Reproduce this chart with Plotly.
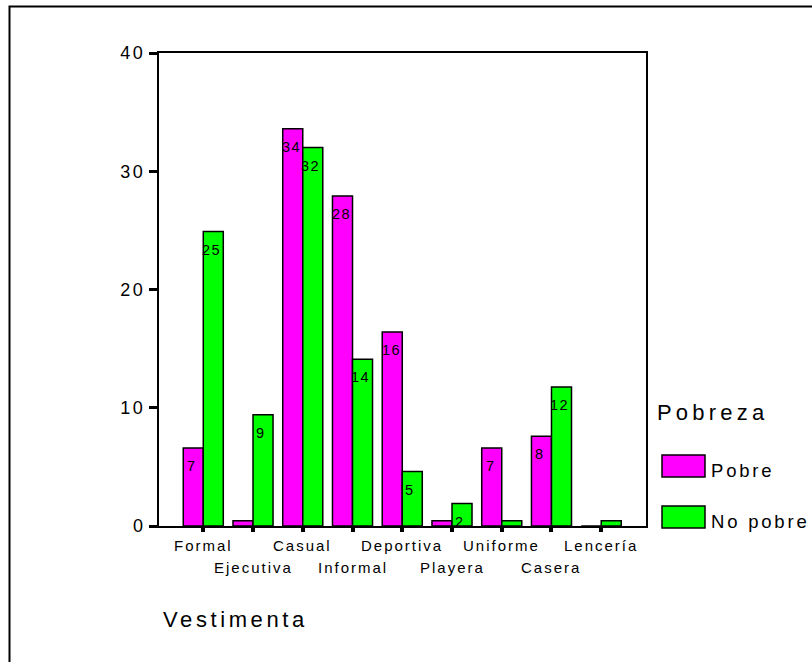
import plotly.graph_objects as go

# Percentages of each clothing type by poverty group
categorias = ["Formal", "Ejecutiva", "Casual", "Informal", "Deportiva",
              "Playera", "Uniforme", "Casera", "Lencería"]
pobre = [6.6, 0.45, 33.6, 27.9, 16.4, 0.45, 6.6, 7.6, 0.0]
no_pobre = [24.9, 9.4, 32.0, 14.1, 4.6, 1.9, 0.45, 11.75, 0.45]
series = ["Pobre", "No pobre"]
colores = ["#FF00FF", "#00FF00"]
y_ticks = [0, 10, 20, 30, 40]
eje_x = "Vestimenta"
titulo_leyenda = "Pobreza"

# Page geometry (pixels)
W, H = 812, 662
L, R, T, B = 159, 646, 53, 526


def fx(p):
    return (p - L) / (R - L)


def fy(p):
    return (B - p) / (B - T)


def sp(text, ls):
    return f'<span style="letter-spacing:{ls}px">{text}</span>'


FONT = "Liberation Sans, Arial, sans-serif"

fig = go.Figure()
for nombre, valores, color in zip(series, [pobre, no_pobre], colores):
    fig.add_trace(go.Bar(
        x=categorias, y=valores, name=nombre,
        marker=dict(color=color, line=dict(color="black", width=1.5)),
        showlegend=False, hoverinfo="skip",
    ))

annotations = []

# value labels near the top of each bar
for k, valores in enumerate([pobre, no_pobre]):
    shift = -11 if k == 0 else 8
    for cat, v in zip(categorias, valores):
        if round(v) >= 1:
            annotations.append(dict(
                x=cat, y=v, xref="x", yref="y", xshift=shift, yshift=-18,
                text=sp(f"{v:.0f}", 1.5), showarrow=False,
                xanchor="center", yanchor="middle",
                font=dict(family=FONT, size=14.5, color="black"),
            ))

# category labels on two staggered rows
for i, cat in enumerate(categorias):
    row_y = 545 if i % 2 == 0 else 567
    annotations.append(dict(
        x=cat, y=fy(row_y), xref="x", yref="paper",
        text=sp(cat, 2), showarrow=False,
        xanchor="center", yanchor="middle",
        font=dict(family=FONT, size=15, color="black"),
    ))

# axis title
annotations.append(dict(
    x=fx(161), y=fy(619), xref="paper", yref="paper",
    text=sp(eje_x, 3.6), showarrow=False, xanchor="left", yanchor="middle",
    font=dict(family=FONT, size=22, color="black"),
))

# legend
annotations.append(dict(
    x=fx(655), y=fy(412.5), xref="paper", yref="paper",
    text=sp(titulo_leyenda, 4.2), showarrow=False, xanchor="left", yanchor="middle",
    font=dict(family=FONT, size=22, color="black"),
))
shapes = []
for i, (nombre, color) in enumerate(zip(series, colores)):
    top = 455 + i * 51
    shapes.append(dict(
        type="rect", xref="paper", yref="paper",
        x0=fx(662), x1=fx(705), y0=fy(top + 22), y1=fy(top),
        fillcolor=color, line=dict(color="black", width=1.5),
    ))
    annotations.append(dict(
        x=fx(709), y=fy(top + 15), xref="paper", yref="paper",
        text=sp(nombre, 2.8), showarrow=False, xanchor="left", yanchor="middle",
        font=dict(family=FONT, size=18.5, color="black"),
    ))

# outer frame
shapes.append(dict(
    type="rect", xref="paper", yref="paper",
    x0=fx(9.5), x1=fx(830), y0=fy(680), y1=fy(6.5),
    line=dict(color="black", width=2), fillcolor="rgba(0,0,0,0)",
))

fig.update_layout(
    width=W, height=H,
    margin=dict(l=L, r=W - R, t=T, b=H - B, pad=0),
    paper_bgcolor="white", plot_bgcolor="white",
    barmode="group", bargap=0.195, bargroupgap=0,
    font=dict(family=FONT, color="black"),
    annotations=annotations, shapes=shapes,
    xaxis=dict(
        range=[-0.89, 8.9], showgrid=False, zeroline=False,
        showline=True, linecolor="black", linewidth=2, mirror=True,
        ticks="outside", ticklen=4, tickwidth=4, tickcolor="black",
        showticklabels=False, fixedrange=True,
    ),
    yaxis=dict(
        range=[0, 40], showgrid=False, zeroline=False,
        showline=True, linecolor="black", linewidth=2, mirror=True,
        ticks="outside", ticklen=8, tickwidth=3, tickcolor="black",
        tickvals=y_ticks, ticktext=[sp(str(t), 2.5) for t in y_ticks],
        tickfont=dict(family=FONT, size=18, color="black"),
        fixedrange=True,
    ),
)

fig.write_html("out.html")
